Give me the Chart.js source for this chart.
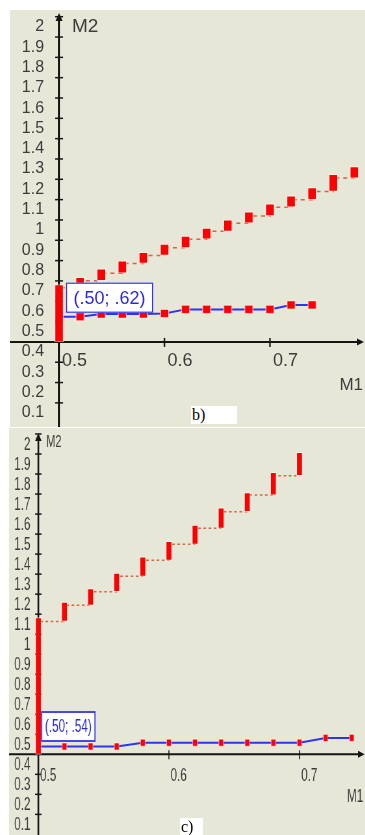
<!DOCTYPE html>
<html>
<head>
<meta charset="utf-8">
<script src="https://cdn.jsdelivr.net/npm/chart.js@4.4.1/dist/chart.umd.min.js"></script>
<style>
  html, body { margin: 0; padding: 0; background: #fff; overflow: hidden; }
  .panel { position: absolute; background: #e7e7d8; overflow: hidden; }
  .tag { position: absolute; background: #fff; color: #000; font: 16px "Liberation Serif", "Times New Roman", serif; line-height: 18px; padding-left: 1px; }
</style>
</head>
<body>
<div class="panel" style="left:10px; top:10px; width:355px; height:417px;">
  <canvas id="chartB"></canvas>
</div>
<div class="panel" style="left:9px; top:428px; width:356px; height:407px;">
  <!-- panel c) is drawn wider and squeezed horizontally, like the original -->
  <div style="width:548px; height:407px; transform:scaleX(0.65); transform-origin:0 0;">
    <canvas id="chartC"></canvas>
  </div>
</div>
<div class="tag" style="left:191px; top:406px; width:45px; height:18px;">b)</div>
<div class="tag" style="left:180px; top:818px; width:22px; height:17px;">c)</div>

<script>
// panel b)
const bX       = [0.50, 0.52, 0.54, 0.56, 0.58, 0.60, 0.62, 0.64, 0.66, 0.68, 0.70, 0.72, 0.74, 0.76, 0.78];
const bUpperLo = [0.400, 0.667, 0.701, 0.738, 0.786, 0.825, 0.863, 0.905, 0.944, 0.984, 1.020, 1.063, 1.100, 1.140, 1.206];
const bUpperHi = [0.682, 0.718, 0.759, 0.799, 0.841, 0.881, 0.921, 0.960, 1.000, 1.040, 1.079, 1.119, 1.159, 1.225, 1.262];
const bLowerX  = [0.50, 0.52, 0.54, 0.56, 0.58, 0.60, 0.62, 0.64, 0.66, 0.68, 0.70, 0.72, 0.74];
const bLower   = [0.524, 0.524, 0.537, 0.537, 0.537, 0.540, 0.560, 0.560, 0.560, 0.560, 0.560, 0.582, 0.582];
const bTip = '(.50; .62)';

// panel c)
const cX       = [0.50, 0.52, 0.54, 0.56, 0.58, 0.60, 0.62, 0.64, 0.66, 0.68, 0.70];
const cUpperLo = [0.400, 1.064, 1.144, 1.212, 1.289, 1.369, 1.449, 1.529, 1.612, 1.695, 1.792];
const cUpperHi = [1.083, 1.160, 1.228, 1.305, 1.386, 1.464, 1.545, 1.631, 1.708, 1.808, 1.908];
const cLowerX  = [0.50, 0.52, 0.54, 0.56, 0.58, 0.60, 0.62, 0.64, 0.66, 0.68, 0.70, 0.72, 0.74];
const cLower   = [0.439, 0.439, 0.439, 0.439, 0.458, 0.458, 0.458, 0.458, 0.458, 0.458, 0.458, 0.482, 0.482];
const cTip = '(.50; .54)';

// axes
const yTicks = [0.1, 0.2, 0.3, 0.4, 0.5, 0.6, 0.7, 0.8, 0.9, 1.0, 1.1, 1.2, 1.3, 1.4, 1.5, 1.6, 1.7, 1.8, 1.9, 2.0];
const yTickLabels = ['0.1', '0.2', '0.3', '0.4', '0.5', '0.6', '0.7', '0.8', '0.9', '1',
                     '1.1', '1.2', '1.3', '1.4', '1.5', '1.6', '1.7', '1.8', '1.9', '2'];
const xTicks = [0.5, 0.6, 0.7];
const xTickLabels = ['0.5', '0.6', '0.7'];
const xCross = 0.5;   // where the M2 axis stands
const yCross = 0.4;   // where the M1 axis lies

const FONT = '"Liberation Sans", Arial, sans-serif';

const styleB = {
  xMin: 0.45985, xMax: 0.78376, yMin: 0.0143, yMax: 2.0,
  barW: 9, markR: 5.7, yAxisW: 2, arrowTop: 3, arrowHalf: 3.5, arrowLen: 8, tickHalf: 4,
  yFont: 16, yLabGap: 15, yLabBase: 14.5, xFont: 18, xLabDx: 3, xLabBase: 24,
  m2: { size: 19, dx: 13, base: 21.6 }, m1: { size: 17, right: 2, dy: 48 },
  tip: { size: 18, pad: 7.5, dx: 7, dy: 4, lw: 1.2 }
};
const styleC = {
  xMin: 0.48052, xMax: 0.74735, yMin: 0.027, yMax: 2.0,
  barW: 9, markR: 5, yAxisW: 2.6, arrowTop: 5, arrowHalf: 5, arrowLen: 11, tickHalf: 5,
  yFont: 18, yLabGap: 12, yLabBase: 16, xFont: 18, xLabDx: 2.6, xLabBase: 27,
  m2: { size: 17, dx: 12, base: 19 }, m1: { size: 18, right: 3, dy: 48 },
  tip: { size: 18, pad: 5.5, dx: 4.6, dy: 5, lw: 1.8 }
};

// crossing axes with arrows, ticks, labels, and the value box
function axesPlugin(st, tip) {
  return {
    id: 'crossAxes',
    beforeDatasetsDraw(chart) {
      const { ctx, width, height } = chart;
      const sx = chart.scales.x, sy = chart.scales.y;
      const ax = sx.getPixelForValue(xCross);
      const ay = sy.getPixelForValue(yCross);
      ctx.save();
      ctx.strokeStyle = '#151515';
      ctx.fillStyle = '#151515';

      ctx.lineWidth = 2;
      ctx.beginPath(); ctx.moveTo(0, ay); ctx.lineTo(width - 4, ay); ctx.stroke();
      ctx.beginPath();
      ctx.moveTo(width - 1, ay);
      ctx.lineTo(width - st.arrowLen, ay - 3.5);
      ctx.lineTo(width - st.arrowLen, ay + 3.5);
      ctx.closePath(); ctx.fill();

      ctx.lineWidth = st.yAxisW;
      ctx.beginPath(); ctx.moveTo(ax, height); ctx.lineTo(ax, st.arrowTop + 4); ctx.stroke();
      ctx.beginPath();
      ctx.moveTo(ax, st.arrowTop);
      ctx.lineTo(ax - st.arrowHalf, st.arrowTop + 8);
      ctx.lineTo(ax + st.arrowHalf, st.arrowTop + 8);
      ctx.closePath(); ctx.fill();

      ctx.lineWidth = 1.5;
      yTicks.forEach(v => {
        const p = sy.getPixelForValue(v);
        ctx.beginPath(); ctx.moveTo(ax - st.tickHalf, p); ctx.lineTo(ax + st.tickHalf, p); ctx.stroke();
      });
      xTicks.forEach(v => {
        const p = sx.getPixelForValue(v);
        ctx.beginPath(); ctx.moveTo(p, ay - 4); ctx.lineTo(p, ay + 5); ctx.stroke();
      });

      ctx.fillStyle = '#3c3c3c';
      ctx.textBaseline = 'alphabetic';
      ctx.font = st.yFont + 'px ' + FONT;
      ctx.textAlign = 'right';
      yTicks.forEach((v, i) => {
        ctx.fillText(yTickLabels[i], ax - st.yLabGap, sy.getPixelForValue(v) + st.yLabBase);
      });
      ctx.font = st.xFont + 'px ' + FONT;
      ctx.textAlign = 'left';
      xTicks.forEach((v, i) => {
        ctx.fillText(xTickLabels[i], sx.getPixelForValue(v) + st.xLabDx, ay + st.xLabBase);
      });

      ctx.font = st.m2.size + 'px ' + FONT;
      ctx.fillText('M2', ax + st.m2.dx, st.m2.base);
      ctx.font = st.m1.size + 'px ' + FONT;
      ctx.textAlign = 'right';
      ctx.fillText('M1', width - st.m1.right, ay + st.m1.dy);
      ctx.restore();
    },
    afterDatasetsDraw(chart) {
      const { ctx } = chart;
      const px = chart.scales.x.getPixelForValue(tip.x);
      const py = chart.scales.y.getPixelForValue(tip.y);
      ctx.save();
      ctx.font = st.tip.size + 'px ' + FONT;
      const w = ctx.measureText(tip.text).width + 2 * st.tip.pad;
      const h = 30;
      const left = px + st.tip.dx, top = py - st.tip.dy - h;
      ctx.fillStyle = '#fff';
      ctx.fillRect(left, top, w, h);
      ctx.strokeStyle = '#3535e6';
      ctx.lineWidth = st.tip.lw;
      ctx.strokeRect(left + 0.5, top + 0.5, w - 1, h - 1);
      ctx.fillStyle = '#2c2cd4';
      ctx.textAlign = 'left';
      ctx.textBaseline = 'middle';
      ctx.fillText(tip.text, left + st.tip.pad, top + h / 2 + 1);
      ctx.restore();
    }
  };
}

function buildChart(id, st, xs, lo, hi, lowX, low, tipText) {
  return new Chart(document.getElementById(id), {
    type: 'bar',
    data: {
      datasets: [
        {
          type: 'bar',
          data: xs.map((x, i) => ({ x, y: [lo[i], hi[i]] })),
          backgroundColor: '#ff0000',
          borderColor: 'rgba(255,255,255,0.55)',
          borderWidth: 1,
          borderSkipped: false,
          barThickness: st.barW,
          grouped: false
        },
        {
          type: 'line',
          data: xs.map((x, i) => ({ x, y: lo[i] })),
          borderColor: '#d6653f',
          borderWidth: 1.5,
          borderDash: [4, 4],
          stepped: 'after',
          pointRadius: 0,
          fill: false
        },
        {
          type: 'line',
          data: lowX.map((x, i) => ({ x, y: low[i] })),
          borderColor: '#2b35ee',
          borderWidth: 2,
          pointStyle: 'rect',
          pointRadius: c => (c.dataIndex === 0 ? 0 : st.markR),
          pointBackgroundColor: '#ff0000',
          pointBorderColor: 'rgba(255,255,255,0.55)',
          pointBorderWidth: 1,
          fill: false
        }
      ]
    },
    options: {
      responsive: true,
      maintainAspectRatio: false,
      animation: false,
      events: [],
      layout: { padding: 0 },
      scales: {
        x: { type: 'linear', min: st.xMin, max: st.xMax, offset: false, display: false },
        y: { type: 'linear', min: st.yMin, max: st.yMax, display: false }
      },
      plugins: { legend: { display: false }, tooltip: { enabled: false } }
    },
    plugins: [axesPlugin(st, { x: lowX[0], y: low[0], text: tipText })]
  });
}

buildChart('chartB', styleB, bX, bUpperLo, bUpperHi, bLowerX, bLower, bTip);
buildChart('chartC', styleC, cX, cUpperLo, cUpperHi, cLowerX, cLower, cTip);
</script>
</body>
</html>
